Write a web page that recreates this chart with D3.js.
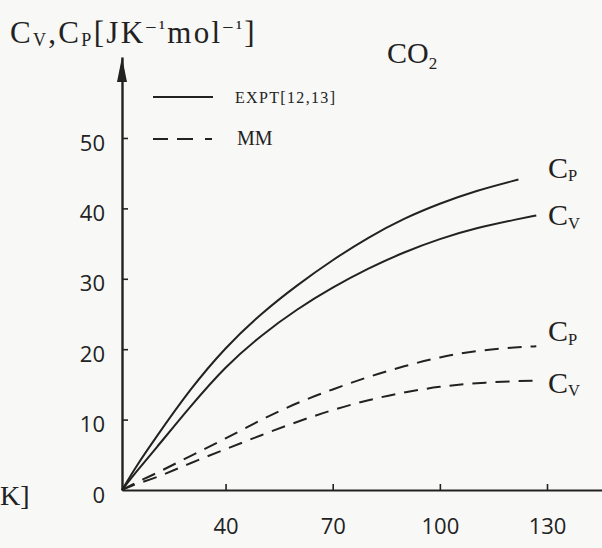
<!DOCTYPE html>
<html>
<head>
<meta charset="utf-8">
<script src="https://cdn.jsdelivr.net/npm/d3@7"></script>
<style>
  html, body { margin: 0; padding: 0; background: #f8f8f6; }
  svg { display: block; }
  text { fill: #222; }
</style>
</head>
<body>
<svg id="chart" width="602" height="548"></svg>
<script>
// Temperatures (K) at which the heat capacities are tabulated
const tempK = [11, 15, 20, 30, 40, 50, 60, 70, 80, 90, 100, 110, 122, 127];

// Heat capacities of CO2 in J K^-1 mol^-1 (null = curve ends earlier)
const cpExpt = [0, 3.4, 7.1, 14.3, 20.3, 25.1, 29.1, 32.7, 35.9, 38.6, 40.7, 42.5, 44.1, null];
const cvExpt = [0, 2.6, 5.6, 11.8, 17.6, 22.0, 25.7, 28.8, 31.5, 33.8, 35.7, 37.2, 38.5, 39.0];
const cpMM   = [0, 1.1, 2.2, 4.8, 7.3, 10.0, 12.4, 14.3, 16.1, 17.6, 18.9, 19.8, 20.3, 20.4];
const cvMM   = [0, 0.9, 1.6, 3.8, 5.8, 7.8, 9.7, 11.4, 12.8, 13.9, 14.7, 15.2, 15.5, 15.5];

const xTicks = [40, 70, 100, 130];
const yTicks = [0, 10, 20, 30, 40, 50];

const series = [
  { name: "Cp", source: "EXPT", values: cpExpt },
  { name: "Cv", source: "EXPT", values: cvExpt },
  { name: "Cp", source: "MM",   values: cpMM },
  { name: "Cv", source: "MM",   values: cvMM }
];

const svg = d3.select("#chart");
const ink = "#222";
const serif = "'Liberation Serif', 'Times New Roman', serif";
const sans = "'Open Sans', 'DejaVu Sans', sans-serif";

const x = d3.scaleLinear().domain([11, 145.4]).range([122, 602]);
const y = d3.scaleLinear().domain([0, 61.5]).range([490, 57]);

// x axis: ticks point up into the plot
const xAxis = svg.append("g")
  .attr("transform", `translate(0,${y(0)})`)
  .call(d3.axisBottom(x).tickValues(xTicks).tickSizeInner(-6).tickSizeOuter(0).tickPadding(28));
xAxis.select(".domain").attr("stroke", ink).attr("stroke-width", 2.2);
xAxis.selectAll(".tick line").attr("stroke", ink).attr("stroke-width", 1.6);
xAxis.selectAll(".tick text")
  .attr("font-family", sans).attr("font-size", 22).attr("fill", ink);

// y axis: ticks point right into the plot
const yAxis = svg.append("g")
  .attr("transform", `translate(${x(11)},0)`)
  .call(d3.axisLeft(y).tickValues(yTicks).tickSizeInner(-6).tickSizeOuter(0).tickPadding(17));
yAxis.select(".domain").attr("stroke", ink).attr("stroke-width", 2.4);
yAxis.selectAll(".tick line").attr("stroke", ink).attr("stroke-width", 1.6)
  .filter(d => d === 0).remove();
yAxis.selectAll(".tick text")
  .attr("font-family", sans).attr("font-size", 22).attr("fill", ink)
  .attr("dy", "0.55em");

// arrowhead at the top of the y axis
const ax = x(11), ay = y(61.5);
svg.append("path")
  .attr("d", `M${ax},${ay} L${ax - 5},${ay + 25} L${ax + 5},${ay + 25} Z`)
  .attr("fill", ink);

// curves
const line = d3.line()
  .defined(d => d[1] !== null)
  .x(d => x(d[0]))
  .y(d => y(d[1]))
  .curve(d3.curveBasis);

series.forEach(s => {
  const pts = tempK.map((t, i) => [t, s.values[i]]);
  svg.append("path")
    .datum(pts)
    .attr("d", line)
    .attr("fill", "none")
    .attr("stroke", ink)
    .attr("stroke-width", 2)
    .attr("stroke-dasharray", s.source === "MM" ? "14,9" : null);
});

// curve end labels
function capLabel(sel, main, sub, fs) {
  sel.append("tspan").text(main);
  sel.append("tspan").text(sub).attr("font-size", fs * 0.55).attr("dy", fs * 0.12);
}
series.forEach(s => {
  let last = 0;
  s.values.forEach((v, i) => { if (v !== null) last = i; });
  const t = svg.append("text")
    .attr("x", 548)
    .attr("y", y(s.values[last]) + (s.source === "EXPT" ? (s.name === "Cp" ? -2 : 10) : (s.name === "Cp" ? -5 : 12)))
    .attr("font-family", serif).attr("font-size", 30);
  capLabel(t, "C", s.name === "Cp" ? "P" : "V", 30);
});

// axis titles
const yl = svg.append("text").attr("x", 10).attr("y", 43)
  .attr("font-family", serif).attr("font-size", 31)
  .attr("letter-spacing", 2.3);
yl.append("tspan").text("C");
yl.append("tspan").text("V").attr("font-size", 18).attr("dy", 3);
yl.append("tspan").text(",C").attr("dy", -3);
yl.append("tspan").text("P").attr("font-size", 18).attr("dy", 3);
yl.append("tspan").text("[JK").attr("dy", -3);
yl.append("tspan").text("\u2212\u00b9").attr("font-size", 20).attr("dy", -9);
yl.append("tspan").text("mol").attr("dy", 9);
yl.append("tspan").text("\u2212\u00b9").attr("font-size", 20).attr("dy", -9);
yl.append("tspan").text("]").attr("dy", 9);

svg.append("text").attr("x", 0).attr("y", 505)
  .attr("font-family", serif).attr("font-size", 28)
  .text("K]");

// title
const ti = svg.append("text").attr("x", 387).attr("y", 63)
  .attr("font-family", serif).attr("font-size", 30);
ti.append("tspan").text("CO");
ti.append("tspan").text("2").attr("font-size", 17).attr("dy", 6);

// legend
svg.append("line").attr("x1", 153).attr("x2", 213).attr("y1", 97).attr("y2", 97)
  .attr("stroke", ink).attr("stroke-width", 2);
svg.append("text").attr("x", 235).attr("y", 103)
  .attr("font-family", serif).attr("font-size", 16)
  .attr("textLength", 100).attr("lengthAdjust", "spacing")
  .text("EXPT[12,13]");
svg.append("line").attr("x1", 153).attr("x2", 212).attr("y1", 139).attr("y2", 139)
  .attr("stroke", ink).attr("stroke-width", 2)
  .attr("stroke-dasharray", "15,9,16,12,7");
svg.append("text").attr("x", 237).attr("y", 145)
  .attr("font-family", serif).attr("font-size", 20)
  .text("MM");
</script>
</body>
</html>
